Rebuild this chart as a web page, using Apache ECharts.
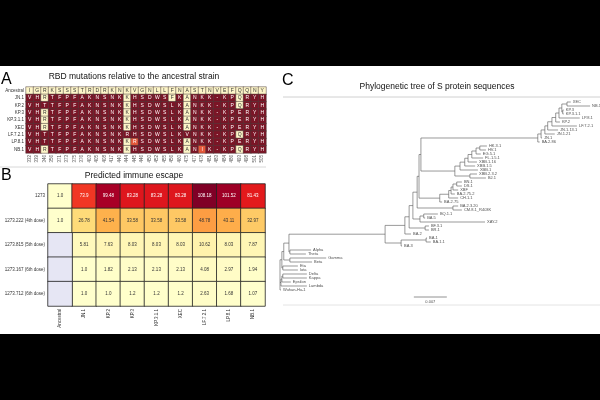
<!DOCTYPE html>
<html><head><meta charset="utf-8">
<script src="https://cdn.jsdelivr.net/npm/echarts@6/dist/echarts.min.js"></script>
<style>html,body{margin:0;padding:0;background:#000;} #c{width:600px;height:400px;}</style>
</head><body><div id="c"></div>
<script>
// ---------- Panel A: RBD mutations ----------
const rbdPositions = ['332','339','346','356','371','373','375','376','403','405','408','417','440','444','445','446','450','452','455','456','460','475','477','478','481','483','484','486','493','498','501','505'];
const ancestralSeq = 'IGRKSSSTRDRKNKVGNLLFNASTNVEFQQNY';
const rbdVariants = ['JN.1','KP.2','KP.3','KP.3.1.1','XEC','LF.7.2.1','LP.8.1','NB.1'];
const rbdSeqs = [
  'VHRTFPFAKNSNKKHSDWSFKANKK-KPQRYH',
  'VHTTFPFAKNSNKKHSDWSLKANKK-KPQRYH',
  'VHRTFPFAKNSNKKHSDWSLKANKK-KPERYH',
  'VHRTFPFAKNSNKKHSDWSLKANKK-KPERYH',
  'VHRTFPFAKNSNKKHSDWSLKANKK-KPERYH',
  'VHTTFPFAKNSNKRHSDWSLKVNKK-KPQRYH',
  'VHTTFPFAKNSNKKRSDWSLKANKK-KPERYH',
  'VHRTFPFAKNSNKKHSDWSLKANIK-KPQRYH'
];
const rbdAltMutations = [['LP.8.1','445'],['NB.1','478']];

// ---------- Panel B: predicted immune escape ----------
const escapeRows = ['1273','1273.222 (4th dose)','1273.815 (5th dose)','1273.167 (6th dose)','1273.712 (6th dose)'];
const escapeCols = ['Ancestral','JN.1','KP.2','KP.3','KP.3.1.1','XEC','LF.7.2.1','LP.8.1','NB.1'];
const escape1273    = [1.0, 73.9, 99.48, 83.28, 83.28, 83.28, 108.18, 101.52, 81.43];
const escape1273_222 = [1.0, 26.78, 41.54, 33.58, 33.58, 33.58, 48.78, 43.11, 32.97];
const escape1273_815 = [null, 5.81, 7.63, 8.03, 8.03, 8.03, 10.62, 8.03, 7.87];
const escape1273_167 = [null, 1.0, 1.82, 2.13, 2.13, 2.13, 4.08, 2.97, 1.94];
const escape1273_712 = [null, 1.0, 1.0, 1.2, 1.2, 1.2, 2.63, 1.68, 1.07];

// ---------- Panel C: phylogenetic tree [name, parent, divergence from root] ----------
const treeNodes = [
['_root',null,0],
['_n3','_root',0.0004],
['_n4','_n3',0.0008],
['_n5','_n4',0.0019],
['_om','_n5',0.0223],
['_om2','_om',0.0265],
['_nA','_om2',0.0274],
['_nB','_nA',0.0282],
['_nC','_nB',0.0291],
['_nD','_nC',0.0295],
['_nXJ','_nD',0.0299],
['_jn','_nXJ',0.0547],
['_j1','_jn',0.0554],
['_j2','_j1',0.0562],
['_j3','_j2',0.0568],
['_j4','_j3',0.0577],
['_j5','_j4',0.0585],
['_j6','_j5',0.0592],
['_j7','_j6',0.0598],
['_xec','_j7',0.0609],
['XEC','_xec',0.0617],
['NB.1','_xec',0.0658],
['_kp3','_j7',0.0600],
['KP.3','_kp3',0.0602],
['KP.3.1.1','_kp3',0.0602],
['LP.8.1','_j6',0.0636],
['KP.2','_j5',0.0594],
['LF.7.2.1','_j4',0.0630],
['JN.1.13.1','_j3',0.0590],
['JN.1.21','_j2',0.0583],
['JN.1','_j1',0.0556],
['BA.2.86','_jn',0.0551],
['_xbb','_nXJ',0.0371],
['_x1','_xbb',0.0382],
['_x3','_x1',0.0392],
['_x4','_x3',0.0399],
['_x5','_x4',0.0407],
['_x6','_x5',0.0416],
['_x7','_x6',0.0424],
['HK.3.1','_x7',0.0439],
['HV.1','_x7',0.0437],
['EG.5.1','_x6',0.0426],
['FL.1.5.1','_x5',0.0431],
['XBB.1.16','_x4',0.0418],
['XBB.1.5','_x3',0.0414],
['XBB.1','_x1',0.0420],
['_x2','_xbb',0.0403],
['XBB.2.3.2','_x2',0.0418],
['BJ.1','_x2',0.0437],
['_b275','_nD',0.0339],
['_c1','_b275',0.0358],
['_c2','_c1',0.0363],
['_c3','_c2',0.0367],
['_c4','_c3',0.0375],
['BN.1','_c4',0.0386],
['DS.1','_c4',0.0386],
['XBF','_c3',0.0378],
['BA.2.75.2','_c2',0.0371],
['CH.1.1','_c1',0.0378],
['BA.2.75','_b275',0.0344],
['_b23','_nC',0.0367],
['BA.2.3.20','_b23',0.0378],
['CM.8.1_R403K','_b23',0.0386],
['_b5','_nB',0.0297],
['_bq','_b5',0.0305],
['BQ.1.1','_bq',0.0335],
['BA.5','_bq',0.0308],
['XAY.2','_b5',0.0435],
['_bf','_nA',0.0308],
['BF.3.1','_bf',0.0316],
['BR.1','_bf',0.0316],
['BA.2','_om2',0.0278],
['_b13','_om',0.0257],
['_ba1','_b13',0.0310],
['BA.1','_ba1',0.0312],
['BA.1.1','_ba1',0.0320],
['BA.3','_b13',0.0259],
['_at','_n5',0.0021],
['Alpha','_at',0.0066],
['Theta','_at',0.0055],
['_gb','_n4',0.0021],
['Gamma','_gb',0.0098],
['Beta','_gb',0.0068],
['_ei','_n3',0.0006],
['Eta','_ei',0.0038],
['Iota','_ei',0.0038],
['_n1','_root',0.0002],
['_n2','_n1',0.0004],
['_dk','_n2',0.0006],
['Delta','_dk',0.0057],
['Kappa','_dk',0.0057],
['Epsilon','_n2',0.0023],
['Lambda','_n1',0.0057],
['Wuhan-Hu-1','_root',0.0002]
];
const scaleBarLength = 0.007;
const scaleBarStart = 0.0284;

// ================= build =================
const FONT = 'Liberation Sans, Arial, Helvetica, sans-serif';
const chart = echarts.init(document.getElementById('c'), null, {width:600, height:400});

// Panel A
const rbdRowNames = ['Ancestral'].concat(rbdVariants);
const rbdAllSeqs = [ancestralSeq].concat(rbdSeqs);
const rbdData = [];
rbdAllSeqs.forEach((seq, r) => {
  for (let c = 0; c < rbdPositions.length; c++) {
    const letter = seq[c];
    let code = 0;
    if (r > 0 && letter !== ancestralSeq[c]) {
      const alt = rbdAltMutations.some(m => m[0] === rbdRowNames[r] && m[1] === rbdPositions[c]);
      code = alt ? 2 : 1;
    }
    rbdData.push({value:[c, r, code], letter: letter,
      label:{color: code === 0 ? '#333' : '#fff'}});
  }
});

// Panel B
const escapeVals = [escape1273, escape1273_222, escape1273_815, escape1273_167, escape1273_712];
const escData = [], escEmpty = [];
escapeVals.forEach((row, r) => row.forEach((v, c) => {
  if (v === null) escEmpty.push([c, r, 0]);
  else escData.push({value:[c, r, v], label:{color: v > 60 ? '#fff' : '#333'}});
}));
const fmtVal = v => Number.isInteger(v) ? v.toFixed(1) : String(v);

// Panel C
const nodeMap = {};
treeNodes.forEach(n => { nodeMap[n[0]] = {name:n[0], parent:n[1], d:n[2], children:[]}; });
treeNodes.forEach(n => { if (n[1]) nodeMap[n[1]].children.push(nodeMap[n[0]]); });
let leafIdx = 0;
function layout(node) {
  if (node.children.length === 0) { node.y = leafIdx++; return; }
  node.children.forEach(layout);
  node.y = (node.children[0].y + node.children[node.children.length-1].y) / 2;
}
layout(nodeMap['_root']);
const segs = [];
const leaves = [];
Object.values(nodeMap).forEach(n => {
  if (n.parent) segs.push([nodeMap[n.parent].d, n.y, n.d, n.y]);
  if (n.children.length) segs.push([n.d, n.children[0].y, n.d, n.children[n.children.length-1].y]);
  else leaves.push([n.d, n.y, n.name]);
});
const scaleY = leafIdx + 0.75;
const scaleSeg = [[scaleBarStart, scaleY, scaleBarStart + scaleBarLength, scaleY]];

const lineRender = (color, w) => (params, api) => {
  const p1 = api.coord([api.value(0), api.value(1)]);
  const p2 = api.coord([api.value(2), api.value(3)]);
  return {type:'line', shape:{x1:p1[0], y1:p1[1], x2:p2[0], y2:p2[1]}, style:{stroke:color, lineWidth:w}};
};

const option = {
  backgroundColor:'#fff',
  animation:false,
  textStyle:{fontFamily:FONT},
  grid:[
    {left:26, top:87, width:240, height:66},
    {left:48, top:184, width:217, height:122},
    {left:280, top:102, width:320, height:200}
  ],
  xAxis:[
    {type:'category', gridIndex:0, data:rbdPositions, axisLine:{show:false}, axisTick:{show:false}, splitLine:{show:false},
     axisLabel:{rotate:90, fontSize:4.5, color:'#555', margin:2, interval:0, fontFamily:FONT}},
    {type:'category', gridIndex:1, data:escapeCols, axisLine:{show:false}, axisTick:{show:false},
     axisLabel:{rotate:90, fontSize:4.5, color:'#333', margin:3, interval:0, fontFamily:FONT}},
    {type:'value', gridIndex:2, min:0, max:0.0679, show:false}
  ],
  yAxis:[
    {type:'category', gridIndex:0, data:rbdRowNames, inverse:true, axisLine:{show:false}, axisTick:{show:false},
     axisLabel:{fontSize:4.5, color:'#333', margin:2, interval:0, fontFamily:FONT}},
    {type:'category', gridIndex:1, data:escapeRows, inverse:true, axisLine:{show:false}, axisTick:{show:false},
     axisLabel:{fontSize:4.5, color:'#333', margin:3, interval:0, fontFamily:FONT}},
    {type:'value', gridIndex:2, min:0, max:50, inverse:true, show:false}
  ],
  visualMap:[
    {type:'piecewise', show:false, seriesIndex:0, dimension:2,
     pieces:[{value:0, color:'#fdf5c8'},{value:1, color:'#7b1526'},{value:2, color:'#e5583a'}]},
    {type:'continuous', show:false, seriesIndex:1, dimension:2, min:1, max:108.18,
     inRange:{color:['#ffffcc','#ffeda0','#fed976','#feb24c','#fd8d3c','#fc4e2a','#e31a1c','#bd0026','#800026']}}
  ],
  series:[
    {type:'heatmap', xAxisIndex:0, yAxisIndex:0, data:rbdData,
     itemStyle:{borderColor:'#4a3a3a', borderWidth:0.5},
     label:{show:true, fontSize:5, fontFamily:FONT, formatter:p => p.data.letter}},
    {type:'heatmap', xAxisIndex:1, yAxisIndex:1, data:escData,
     itemStyle:{borderColor:'#222', borderWidth:0.8},
     label:{show:true, fontSize:4.5, fontFamily:FONT, formatter:p => fmtVal(p.value[2])}},
    {type:'heatmap', xAxisIndex:1, yAxisIndex:1, data:escEmpty,
     itemStyle:{color:'#e6e6f4', borderColor:'#222', borderWidth:0.8}},
    {type:'custom', xAxisIndex:2, yAxisIndex:2, data:segs, encode:{x:[0,2], y:[1,3]},
     renderItem:lineRender('#555', 0.6), silent:true, clip:false},
    {type:'custom', xAxisIndex:2, yAxisIndex:2, data:scaleSeg, encode:{x:[0,2], y:[1,3]},
     renderItem:lineRender('#777', 0.8), silent:true, clip:false},
    {type:'scatter', xAxisIndex:2, yAxisIndex:2, data:leaves, symbolSize:0, silent:true,
     label:{show:true, position:'right', distance:2, fontSize:4, color:'#222', fontFamily:FONT, formatter:p => p.value[2]}},
    {type:'scatter', xAxisIndex:2, yAxisIndex:2, data:[[scaleBarStart + scaleBarLength/2, scaleY + 1.2, String(scaleBarLength)]],
     symbolSize:0, silent:true,
     label:{show:true, position:'inside', fontSize:4, color:'#222', fontFamily:FONT, formatter:p => p.value[2]}}
  ],
  graphic:[
    {type:'rect', shape:{x:0, y:0, width:600, height:66}, style:{fill:'#000'}, z:100},
    {type:'rect', shape:{x:0, y:334, width:600, height:66}, style:{fill:'#000'}, z:100},
    {type:'line', shape:{x1:0, y1:167, x2:266, y2:167}, style:{stroke:'#d8d8d8', lineWidth:1}},
    {type:'line', shape:{x1:283, y1:97, x2:600, y2:97}, style:{stroke:'#d0d0d0', lineWidth:1}},
    {type:'line', shape:{x1:283, y1:305, x2:600, y2:305}, style:{stroke:'#e4e4e4', lineWidth:1}},
    {type:'text', style:{x:1, y:80, text:'A', font:'16px '+FONT, fill:'#000', textVerticalAlign:'middle'}},
    {type:'text', style:{x:1, y:176, text:'B', font:'16px '+FONT, fill:'#000', textVerticalAlign:'middle'}},
    {type:'text', style:{x:282, y:81, text:'C', font:'16px '+FONT, fill:'#000', textVerticalAlign:'middle'}},
    {type:'text', style:{x:134, y:77, text:'RBD mutations relative to the ancestral strain', font:'8.5px '+FONT, fill:'#111', textAlign:'center', textVerticalAlign:'middle'}},
    {type:'text', style:{x:134, y:176, text:'Predicted immune escape', font:'8.5px '+FONT, fill:'#111', textAlign:'center', textVerticalAlign:'middle'}},
    {type:'text', style:{x:437, y:87, text:'Phylogenetic tree of S protein sequences', font:'8.5px '+FONT, fill:'#111', textAlign:'center', textVerticalAlign:'middle'}}
  ]
};
chart.setOption(option);
</script></body></html>
